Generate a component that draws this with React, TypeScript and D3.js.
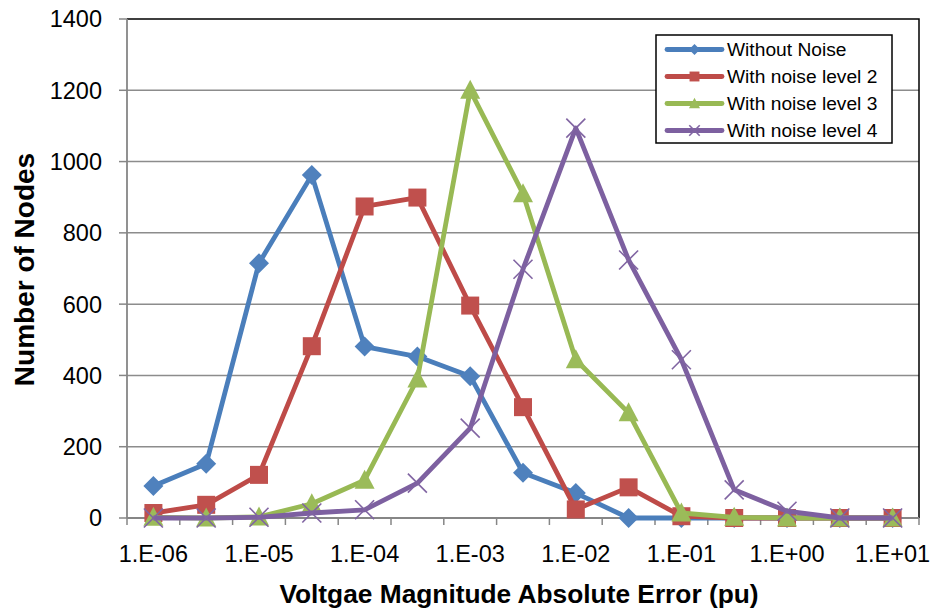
import React from "react";
import * as d3 from "d3";

// Error bins (half-decade steps); only whole decades are labelled
const categories = [
  "1.E-06", "3.E-06", "1.E-05", "3.E-05", "1.E-04", "3.E-04", "1.E-03", "3.E-03",
  "1.E-02", "3.E-02", "1.E-01", "3.E-01", "1.E+00", "3.E+00", "1.E+01",
];

const withoutNoise = [90, 152, 715, 962, 481, 453, 398, 127, 70, 0, 0, 0, 0, 0, 0];
const noiseLevel2 = [14, 37, 121, 482, 874, 899, 596, 311, 24, 86, 5, 0, 0, 0, 0];
const noiseLevel3 = [2, 0, 3, 40, 106, 390, 1200, 910, 444, 295, 14, 2, 0, 0, 0];
const noiseLevel4 = [0, 0, 2, 14, 23, 98, 252, 698, 1094, 724, 444, 79, 19, 0, 0];

const seriesNames = ["Without Noise", "With noise level 2", "With noise level 3", "With noise level 4"];
const yTicks = [0, 200, 400, 600, 800, 1000, 1200, 1400];

type MarkerKind = "diamond" | "square" | "triangle" | "cross";

const seriesList: { name: string; values: number[]; line: string; fill: string; marker: MarkerKind }[] = [
  { name: seriesNames[0], values: withoutNoise, line: "#4A7EBB", fill: "#4F81BD", marker: "diamond" },
  { name: seriesNames[1], values: noiseLevel2, line: "#BE4B48", fill: "#C0504D", marker: "square" },
  { name: seriesNames[2], values: noiseLevel3, line: "#98B954", fill: "#9BBB59", marker: "triangle" },
  { name: seriesNames[3], values: noiseLevel4, line: "#7D60A0", fill: "#8064A2", marker: "cross" },
];

const W = 930;
const H = 614;
const plot = { left: 127, right: 919, top: 19, bottom: 518 };
const FONT = "'Liberation Sans', Arial, sans-serif";

function Marker({ kind, x, y, size, fill, stroke }: { kind: MarkerKind; x: number; y: number; size: number; fill: string; stroke: string }) {
  const h = size / 2;
  if (kind === "diamond") {
    return <path d={`M${x},${y - h}L${x + h},${y}L${x},${y + h}L${x - h},${y}Z`} fill={fill} />;
  }
  if (kind === "square") {
    const s = size * 0.9;
    return <rect x={x - s / 2} y={y - s / 2} width={s} height={s} fill={fill} />;
  }
  if (kind === "triangle") {
    return <path d={`M${x},${y - h * 1.05}L${x + h},${y + h * 0.85}L${x - h},${y + h * 0.85}Z`} fill={fill} />;
  }
  const c = h * 0.95;
  return (
    <g stroke={stroke} strokeWidth={1.6}>
      <line x1={x - c} y1={y - c} x2={x + c} y2={y + c} />
      <line x1={x - c} y1={y + c} x2={x + c} y2={y - c} />
    </g>
  );
}

export default function App() {
  const x = d3.scaleBand<string>().domain(categories).range([plot.left, plot.right]).padding(0);
  const y = d3.scaleLinear().domain([0, 1400]).range([plot.bottom, plot.top]);
  const cx = (c: string) => (x(c) ?? 0) + x.bandwidth() / 2;

  const lineGen = d3
    .line<number>()
    .x((_, i) => cx(categories[i]))
    .y((v) => y(v));

  const boundaries = d3.range(categories.length + 1).map((i) => plot.left + i * x.bandwidth());
  const grid = "#8C8C8C";
  const axis = "#868686";

  return (
    <svg width={W} height={H} style={{ position: "absolute", left: 0, top: 0, background: "#fff" }} fontFamily={FONT}>
      <rect x={0} y={0} width={W} height={H} fill="#fff" />

      {/* horizontal gridlines */}
      {yTicks.filter((t) => t > 0 && t < 1400).map((t) => (
        <line key={t} x1={plot.left} x2={plot.right} y1={y(t)} y2={y(t)} stroke={grid} strokeWidth={1.5} />
      ))}

      {/* plot frame: top and right */}
      <path d={`M${plot.left},${y(1400)}H${plot.right}V${plot.bottom}`} fill="none" stroke="#000" strokeWidth={1.5} />

      {/* y axis */}
      <line x1={plot.left} x2={plot.left} y1={plot.top} y2={plot.bottom} stroke={axis} strokeWidth={1.8} />
      {yTicks.map((t) => (
        <g key={t}>
          <line x1={plot.left - 8} x2={plot.left} y1={y(t)} y2={y(t)} stroke={axis} strokeWidth={1.5} />
          <text x={102} y={y(t)} dy="0.36em" textAnchor="end" fontSize={23.5} fill="#000">
            {t}
          </text>
        </g>
      ))}

      {/* x axis */}
      <line x1={plot.left} x2={plot.right} y1={plot.bottom} y2={plot.bottom} stroke={axis} strokeWidth={1.8} />
      {boundaries.map((b, i) => (
        <line key={i} x1={b} x2={b} y1={plot.bottom} y2={plot.bottom + 7} stroke={axis} strokeWidth={1.5} />
      ))}
      {categories.map((c, i) =>
        i % 2 === 0 ? (
          <text key={c} x={cx(c)} y={561.5} textAnchor="middle" fontSize={23.5} fill="#000">
            {c}
          </text>
        ) : null
      )}

      {/* series */}
      {seriesList.map((s) => (
        <g key={s.name}>
          <path d={lineGen(s.values) ?? ""} fill="none" stroke={s.line} strokeWidth={4.8} strokeLinejoin="round" />
          {s.values.map((v, i) => (
            <Marker key={i} kind={s.marker} x={cx(categories[i])} y={y(v)} size={20} fill={s.fill} stroke={s.fill} />
          ))}
        </g>
      ))}

      {/* legend */}
      <rect x={656} y={35} width={236} height={108} fill="#fff" stroke="#000" strokeWidth={1.5} />
      {seriesList.map((s, i) => {
        const ly = 49.5 + i * 27;
        return (
          <g key={s.name}>
            <line x1={667} x2={722} y1={ly} y2={ly} stroke={s.line} strokeWidth={4.8} strokeLinecap="round" />
            <Marker kind={s.marker} x={694.5} y={ly} size={s.marker === "cross" ? 11 : 11} fill={s.fill} stroke={s.fill} />
            <text x={727} y={ly} dy="0.36em" fontSize={19.2} fill="#000">
              {s.name}
            </text>
          </g>
        );
      })}

      {/* axis titles */}
      <text x={519} y={603} textAnchor="middle" fontSize={26.3} fontWeight="bold" fill="#000">
        Voltgae Magnitude Absolute Error (pu)
      </text>
      <text
        transform={`translate(33.5, ${(plot.top + plot.bottom) / 2 + 1}) rotate(-90)`}
        textAnchor="middle"
        fontSize={28}
        fontWeight="bold"
        fill="#000"
      >
        Number of Nodes
      </text>
    </svg>
  );
}
